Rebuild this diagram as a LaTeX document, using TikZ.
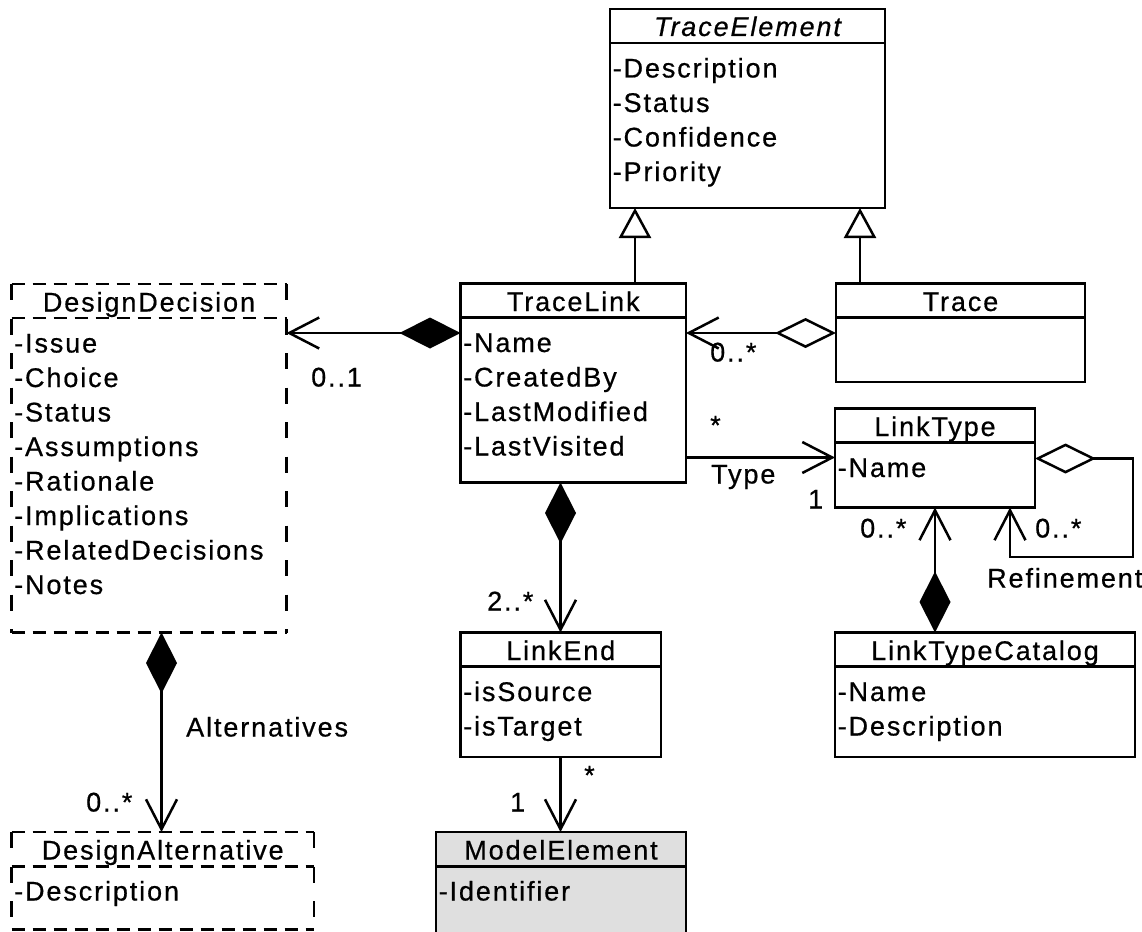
\documentclass[tikz,border=0pt]{standalone}
\usepackage{fontspec}
\setmainfont{Liberation Sans}[LetterSpace=7, FakeBold=0.6]
\usetikzlibrary{arrows.meta}

\tikzset{
  umlbox/.style={draw, line width=2.5pt, rectangle, anchor=north west,
    inner sep=0pt, outer sep=0pt, fill=white},
  dashedbox/.style={umlbox, draw=none},
  graybox/.style={umlbox, fill=gray!25},
  sepline/.style={line width=2.5pt},
  hdash/.style={line width=2.5pt, dash pattern=on 13pt off 8pt},
  vdash/.style={line width=2.5pt, dash pattern=on 16pt off 18.5pt},
  classtitle/.style={anchor=base, inner sep=0pt},
  attr/.style={anchor=base west, inner sep=0pt},
  mult/.style={anchor=base west, inner sep=0pt},
  conn/.style={line width=2.5pt},
  assoc/.style={conn, -{Straight Barb[length=30pt,width=31pt]}},
  compos/.style={conn, {Diamond[length=61pt,width=31pt]}-{Straight Barb[length=30pt,width=31pt]}},
  aggreg/.style={conn, {Diamond[open,length=61pt,width=30pt]}-{Straight Barb[length=30pt,width=31pt]}},
  gen/.style={conn, -{Triangle[open,length=30pt,width=32pt]}},
}

\begin{document}
\begin{tikzpicture}[x=1pt,y=-1pt]
\fontsize{27}{34.5}\selectfont
\useasboundingbox (0,0) rectangle (1142,931);

% ---------- TraceElement ----------
\node[umlbox, minimum width=275pt, minimum height=199pt] (te) at (610,9) {};
\draw[sepline] (te.north west) ++(0,34) coordinate (te-s1) -- (te-s1 -| te.east);
\node[classtitle] (te-t) at (747.5,36) {\itshape TraceElement};
\node[attr] (te-a1) at (612.5,77.5) {-Description};
\node[attr] (te-a2) at (612.5,112) {-Status};
\node[attr] (te-a3) at (612.5,146.5) {-Confidence};
\node[attr] (te-a4) at (612.5,181) {-Priority};

% ---------- TraceLink ----------
\node[umlbox, minimum width=225.5pt, minimum height=199pt] (tl) at (460.5,283.5) {};
\draw[sepline] (tl.north west) ++(0,34) coordinate (tl-s1) -- (tl-s1 -| tl.east);
\node[classtitle] (tl-t) at (573.25,311) {TraceLink};
\node[attr] (tl-a1) at (463,352) {-Name};
\node[attr] (tl-a2) at (463,386.5) {-CreatedBy};
\node[attr] (tl-a3) at (463,421) {-LastModified};
\node[attr] (tl-a4) at (463,455.5) {-LastVisited};

% ---------- Trace ----------
\node[umlbox, minimum width=249pt, minimum height=98.5pt] (tr) at (836,283.5) {};
\draw[sepline] (tr.north west) ++(0,34) coordinate (tr-s1) -- (tr-s1 -| tr.east);
\node[classtitle] (tr-t) at (960.5,311) {Trace};

% ---------- DesignDecision (dashed outline) ----------
\node[dashedbox, minimum width=275pt, minimum height=348.5pt] (dd) at (11.5,284) {};
\draw[hdash] (dd.north west) -- (dd.north east);
\draw[hdash] (dd.south west) -- (dd.south east);
\draw[vdash] (dd.north west) -- (dd.south west);
\draw[vdash] (dd.north east) -- (dd.south east);
\draw[hdash] (dd.north west) ++(0,34) coordinate (dd-s1) -- (dd-s1 -| dd.east);
\node[classtitle] (dd-t) at (149,311.5) {DesignDecision};
\node[attr] (dd-a1) at (14,352.5) {-Issue};
\node[attr] (dd-a2) at (14,387) {-Choice};
\node[attr] (dd-a3) at (14,421.5) {-Status};
\node[attr] (dd-a4) at (14,456) {-Assumptions};
\node[attr] (dd-a5) at (14,490.5) {-Rationale};
\node[attr] (dd-a6) at (14,525) {-Implications};
\node[attr] (dd-a7) at (14,559.5) {-RelatedDecisions};
\node[attr] (dd-a8) at (14,594) {-Notes};

% ---------- LinkType ----------
\node[umlbox, minimum width=200pt, minimum height=99pt] (lt) at (835,408.5) {};
\draw[sepline] (lt.north west) ++(0,34) coordinate (lt-s1) -- (lt-s1 -| lt.east);
\node[classtitle] (lt-t) at (935,436) {LinkType};
\node[attr] (lt-a1) at (837.5,477) {-Name};

% ---------- LinkTypeCatalog ----------
\node[umlbox, minimum width=300pt, minimum height=124.5pt] (ltc) at (835,632.5) {};
\draw[sepline] (ltc.north west) ++(0,34) coordinate (ltc-s1) -- (ltc-s1 -| ltc.east);
\node[classtitle] (ltc-t) at (985,660) {LinkTypeCatalog};
\node[attr] (ltc-a1) at (837.5,701) {-Name};
\node[attr] (ltc-a2) at (837.5,735.5) {-Description};

% ---------- LinkEnd ----------
\node[umlbox, minimum width=200.5pt, minimum height=124.5pt] (le) at (460.5,632.5) {};
\draw[sepline] (le.north west) ++(0,34) coordinate (le-s1) -- (le-s1 -| le.east);
\node[classtitle] (le-t) at (560.75,660) {LinkEnd};
\node[attr] (le-a1) at (463,701) {-isSource};
\node[attr] (le-a2) at (463,735.5) {-isTarget};

% ---------- ModelElement ----------
\node[graybox, minimum width=250pt, minimum height=104pt] (me) at (436,832) {};
\draw[sepline] (me.north west) ++(0,34.5) coordinate (me-s1) -- (me-s1 -| me.east);
\node[classtitle] (me-t) at (561,859.5) {ModelElement};
\node[attr] (me-a1) at (438.5,900.5) {-Identifier};

% ---------- DesignAlternative (dashed outline) ----------
\node[dashedbox, minimum width=302.5pt, minimum height=97.5pt] (da) at (11.5,832) {};
\draw[hdash] (da.north west) -- (da.north east);
\draw[hdash] (da.south west) -- (da.south east);
\draw[vdash] (da.north west) -- (da.south west);
\draw[vdash] (da.north east) -- (da.south east);
\draw[hdash] (da.north west) ++(0,34.5) coordinate (da-s1) -- (da-s1 -| da.east);
\node[classtitle] (da-t) at (162.75,859.5) {DesignAlternative};
\node[attr] (da-a1) at (14,900.5) {-Description};

% ---------- generalizations ----------
\draw[gen] ([xshift=174.5pt]tl.north west) -- ([xshift=174.5pt]tl.north west |- te.south);
\draw[gen] ([xshift=24pt]tr.north west) -- ([xshift=24pt]tr.north west |- te.south);

% ---------- compositions and aggregations ----------
\draw[compos] ([yshift=-49.5pt]tl.north west) -- ([yshift=-49.5pt]tl.north west -| dd.east);
\draw[aggreg] ([yshift=-49.5pt]tr.north west) -- ([yshift=-49.5pt]tr.north west -| tl.east);
\draw[compos] ([xshift=100pt]tl.south west) -- ([xshift=100pt]tl.south west |- le.north);
\draw[compos] ([xshift=100pt]ltc.north west) -- ([xshift=100pt]ltc.north west |- lt.south);
\draw[compos] ([xshift=150pt]dd.south west) -- ([xshift=150pt]dd.south west |- da.north);
\coordinate (refcorner) at (1133,557);
\draw[aggreg] ([yshift=-50pt]lt.north east) -| (refcorner) -| ([xshift=175pt]lt.south west);

% ---------- plain associations ----------
\draw[assoc] ([yshift=-174pt]tl.north east) -- ([yshift=-174pt]tl.north east -| lt.west);
\draw[assoc] ([xshift=100pt]le.south west) -- ([xshift=100pt]le.south west |- me.north);

% ---------- multiplicities and role names ----------
\node[mult] (m-dd) at (311,386.5) {0..1};
\node[mult] (m-tr) at (710,361.5) {0..*};
\node[mult] (m-tls) at (710,434.5) {*};
\node[mult] (r-type) at (711,483.5) {Type};
\node[mult] (m-lt1) at (808,508.5) {1};
\node[mult] (m-ltc) at (860,537.5) {0..*};
\node[mult] (m-ref) at (1035,537.5) {0..*};
\node[mult] (r-ref) at (987,587.5) {Refinement};
\node[mult] (m-le) at (487,610.5) {2..*};
\node[mult] (r-alt) at (186,736.5) {Alternatives};
\node[mult] (m-da) at (86,811.5) {0..*};
\node[mult] (m-les) at (584,784.5) {*};
\node[mult] (m-me) at (510,811.5) {1};
\end{tikzpicture}
\end{document}
